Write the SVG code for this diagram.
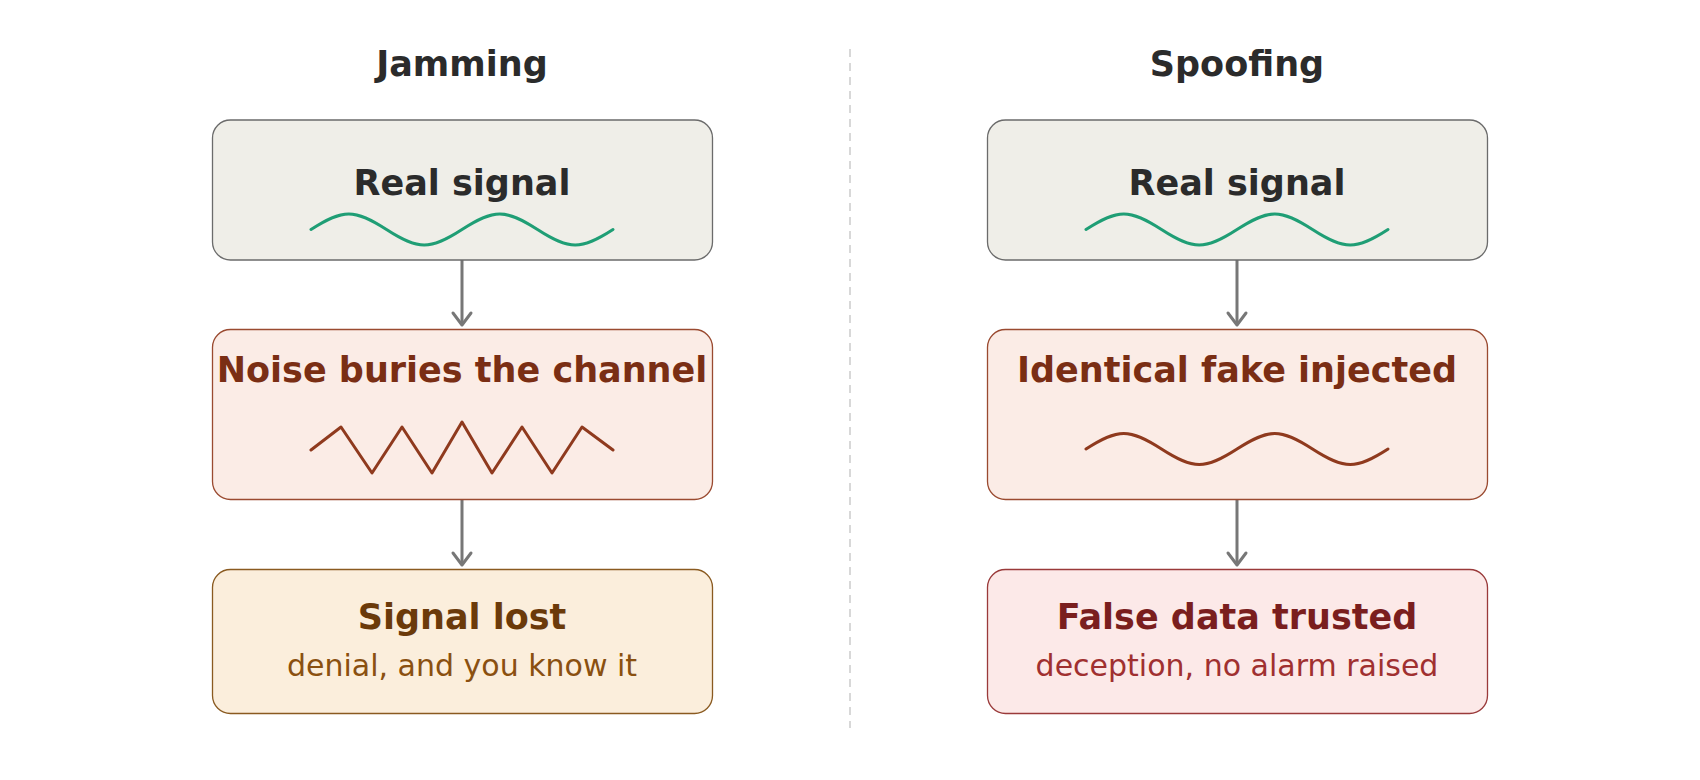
<svg xmlns="http://www.w3.org/2000/svg" width="1700" height="780" viewBox="0 0 1700 780">
<style>
  text { font-family: "DejaVu Sans", "Liberation Sans", sans-serif; text-anchor: middle; }
  .head { font-size: 35px; font-weight: bold; fill: #2b2b2b; }
  .t { font-size: 35px; font-weight: bold; }
  .s { font-size: 30px; }
  .box { stroke-width: 1.3; }
  .conn { stroke: #777777; stroke-width: 3; fill: none; }
  .wave { fill: none; stroke-width: 3; stroke-linecap: round; stroke-linejoin: round; }
</style>
<defs>
  <path id="sine" d="M0 0 c32 -20.7 43.5 -20.7 75.5 0 s43.5 20.7 75.5 0 s43.5 -20.7 75.5 0 s43.5 20.7 75.5 0"/>
  <marker id="arr" markerUnits="userSpaceOnUse" markerWidth="20" markerHeight="26" viewBox="-16 -13 20 26" refX="0" refY="0" orient="auto">
    <path d="M-12 -9 L0 0 L-12 9" fill="none" stroke="#777777" stroke-width="3" stroke-linecap="round" stroke-linejoin="round"/>
  </marker>
</defs>
<rect width="1700" height="780" fill="#ffffff"/>
<line x1="850" y1="49" x2="850" y2="728" stroke="#cccccc" stroke-width="1.5" stroke-dasharray="8 6"/>
<text class="head" x="462" y="76">Jamming</text>
<text class="head" x="1237" y="76">Spoofing</text>

<g id="connectors">
  <line class="conn" x1="462" y1="260" x2="462" y2="325" marker-end="url(#arr)"/>
  <line class="conn" x1="462" y1="499" x2="462" y2="565" marker-end="url(#arr)"/>
  <line class="conn" x1="1237" y1="260" x2="1237" y2="325" marker-end="url(#arr)"/>
  <line class="conn" x1="1237" y1="499" x2="1237" y2="565" marker-end="url(#arr)"/>
</g>

<g id="jam-real">
  <rect class="box" x="212.5" y="120" width="500" height="140" rx="18" fill="#efeee8" stroke="#6b6b6b"/>
  <text class="t" x="462" y="195" fill="#2b2b2b">Real signal</text>
  <use href="#sine" x="311" y="229.5" class="wave" stroke="#1f9e75"/>
</g>
<g id="jam-noise">
  <rect class="box" x="212.5" y="329.5" width="500" height="170" rx="18" fill="#fbece6" stroke="#9a4a30"/>
  <text class="t" x="462" y="382" fill="#7a2e14">Noise buries the channel</text>
  <polyline class="wave" stroke="#8f3a1e" points="311,450 341,427 372,473 402,427 432,473 462,422 492,473 522,427 552,473 582,427 613,450"/>
</g>
<g id="jam-lost">
  <rect class="box" x="212.5" y="569.5" width="500" height="144" rx="18" fill="#fbeedc" stroke="#8a5a20"/>
  <text class="t" x="462" y="629" fill="#6b3a0a">Signal lost</text>
  <text class="s" x="462" y="676" fill="#8a5010">denial, and you know it</text>
</g>

<g id="spoof-real">
  <rect class="box" x="987.5" y="120" width="500" height="140" rx="18" fill="#efeee8" stroke="#6b6b6b"/>
  <text class="t" x="1237" y="195" fill="#2b2b2b">Real signal</text>
  <use href="#sine" x="1086" y="229.5" class="wave" stroke="#1f9e75"/>
</g>
<g id="spoof-fake">
  <rect class="box" x="987.5" y="329.5" width="500" height="170" rx="18" fill="#fbece6" stroke="#9a4a30"/>
  <text class="t" x="1237" y="382" fill="#7a2e14">Identical fake injected</text>
  <use href="#sine" x="1086" y="449" class="wave" stroke="#8f3a1e"/>
</g>
<g id="spoof-trusted">
  <rect class="box" x="987.5" y="569.5" width="500" height="144" rx="18" fill="#fce9e8" stroke="#9a3a3a"/>
  <text class="t" x="1237" y="629" fill="#7a1e1e">False data trusted</text>
  <text class="s" x="1237" y="676" fill="#a03030">deception, no alarm raised</text>
</g>
</svg>
